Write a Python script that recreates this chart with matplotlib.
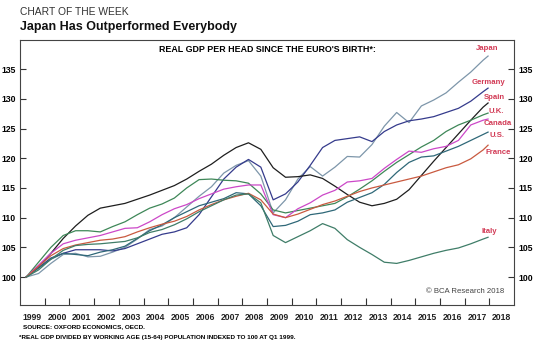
import numpy as np
import matplotlib
matplotlib.use("Agg")
import matplotlib.pyplot as plt
from matplotlib.ticker import FixedLocator, NullFormatter, FixedFormatter

plt.rcParams['font.family'] = ['Liberation Sans', 'DejaVu Sans']

# datas (meio de cada semestre) + último trimestre
anos = [1999.25, 1999.75, 2000.25, 2000.75, 2001.25, 2001.75, 2002.25, 2002.75,
        2003.25, 2003.75, 2004.25, 2004.75, 2005.25, 2005.75, 2006.25, 2006.75,
        2007.25, 2007.75, 2008.25, 2008.75, 2009.25, 2009.75, 2010.25, 2010.75,
        2011.25, 2011.75, 2012.25, 2012.75, 2013.25, 2013.75, 2014.25, 2014.75,
        2015.25, 2015.75, 2016.25, 2016.75, 2017.25, 2017.75, 2017.95]

japao = [100.0, 100.6, 102.3, 103.8, 104.0, 103.4, 103.5, 104.2, 105.0, 106.4,
         108.0, 108.6, 110.0, 111.8, 113.6, 115.2, 117.5, 118.8, 119.6, 117.0,
         110.8, 113.0, 116.5, 118.6, 117.0, 118.5, 120.3, 120.2, 122.3, 125.4,
         127.7, 126.0, 128.8, 129.8, 131.0, 132.8, 134.5, 136.5, 137.2]
alemanha = [100.0, 101.6, 103.2, 104.0, 104.6, 104.6, 104.6, 104.4, 104.8, 105.6,
            106.4, 107.2, 107.6, 108.3, 110.5, 113.5, 116.5, 118.5, 119.8, 118.5,
            113.0, 114.0, 116.0, 118.8, 121.8, 123.0, 123.3, 123.6, 122.8, 124.5,
            125.6, 126.3, 126.6, 127.0, 127.7, 128.4, 129.6, 131.2, 131.8]
espanha = [100.0, 101.8, 104.0, 106.5, 108.6, 110.4, 111.6, 112.0, 112.4, 113.1,
           113.8, 114.6, 115.4, 116.5, 117.8, 119.0, 120.5, 121.8, 122.6, 121.5,
           118.4, 116.8, 116.9, 117.2, 116.6, 115.3, 113.9, 112.6, 112.0, 112.4,
           113.1, 114.7, 117.1, 119.5, 121.8, 124.1, 126.4, 128.6, 129.3]
reino_unido = [100.0, 102.5, 105.0, 107.0, 107.8, 107.8, 107.6, 108.5, 109.3, 110.5,
               111.6, 112.3, 113.3, 115.0, 116.4, 116.5, 116.3, 116.2, 115.8, 114.0,
               111.3, 110.8, 111.2, 111.6, 112.0, 112.4, 113.5, 114.8, 116.2, 117.8,
               119.3, 120.6, 121.9, 123.0, 124.5, 125.6, 126.4, 127.3, 127.6]
canada = [100.0, 102.0, 104.0, 105.6, 106.2, 106.6, 107.0, 107.6, 108.2, 108.3,
          109.3, 110.5, 111.5, 112.2, 113.2, 114.0, 114.8, 115.2, 115.5, 115.5,
          110.5, 110.0, 111.5, 112.5, 113.8, 114.6, 116.0, 116.2, 116.6, 118.3,
          119.8, 121.2, 121.0, 121.6, 122.0, 123.0, 125.6, 126.4, 126.6]
eua = [100.0, 101.5, 103.0, 104.0, 103.8, 103.6, 104.2, 104.6, 105.2, 106.5,
       107.8, 108.8, 110.0, 111.0, 112.0, 112.6, 113.2, 114.2, 114.0, 112.0,
       108.5, 108.7, 109.4, 110.5, 110.8, 111.3, 112.6, 113.4, 114.2, 115.6,
       117.6, 119.3, 120.2, 120.4, 121.2, 122.0, 123.0, 124.0, 124.4]
franca = [100.0, 101.8, 103.6, 104.8, 105.4, 105.8, 106.2, 106.4, 106.8, 107.6,
          108.3, 108.9, 109.4, 110.2, 111.3, 112.2, 113.0, 113.6, 114.1, 113.0,
          110.6, 110.0, 110.6, 111.4, 112.2, 112.8, 113.6, 114.4, 115.0, 115.5,
          116.0, 116.5, 117.0, 117.7, 118.4, 118.9, 119.9, 121.4, 122.2]
italia = [100.0, 101.2, 103.0, 104.5, 105.3, 105.5, 105.6, 105.8, 106.0, 106.6,
          107.5, 108.0, 108.8, 109.8, 111.0, 112.0, 113.0, 113.8, 114.0, 112.5,
          107.0, 105.8, 106.8, 107.8, 109.0, 108.2, 106.3, 105.0, 103.8, 102.5,
          102.3, 102.8, 103.4, 104.0, 104.5, 104.9, 105.6, 106.4, 106.7]

paises = ["Japan", "Germany", "Spain", "U.K.", "Canada", "U.S.", "France", "Italy"]
series = [japao, alemanha, espanha, reino_unido, canada, eua, franca, italia]
cores = ["#7d96aa", "#353b8c", "#1e1e1e", "#3e8758", "#cc48c8", "#2f6878", "#c95a40", "#3f7d68"]
# posição dos rótulos (ano, valor)
rotulo_x = [2017.9, 2017.96, 2018.2, 2018.3, 2018.35, 2018.3, 2018.35, 2018.0]
rotulo_y = [138.5, 132.8, 130.3, 127.9, 125.8, 123.9, 121.0, 107.7]

anos_eixo = list(range(1999, 2019))
yticks = [100, 105, 110, 115, 120, 125, 130, 135]

##############################################################################################
fig = plt.figure(figsize=(5.39, 3.46), dpi=100)
ax = fig.add_axes([20/539, 1-305/346, 494/539, 265/346])

for s, c in zip(series, cores):
    ax.plot(anos, s, color=c, lw=0.9)

for nome, x, y in zip(paises, rotulo_x, rotulo_y):
    ax.text(x, y, nome, color="#d23a55", fontsize=5.6, fontweight="bold",
            ha="center", va="center")

ax.set_xlim(1999, 2019)
ax.set_ylim(95.3, 139.9)

# ticks nos anos, rótulos no meio do ano
ax.xaxis.set_major_locator(FixedLocator(anos_eixo[1:]))
ax.xaxis.set_major_formatter(NullFormatter())
ax.xaxis.set_minor_locator(FixedLocator([a + 0.5 for a in anos_eixo]))
ax.xaxis.set_minor_formatter(FixedFormatter([str(a) for a in anos_eixo]))
ax.tick_params(axis="x", which="major", direction="in", length=5, width=0.8, color="#333333")
ax.tick_params(axis="x", which="minor", length=0, pad=6, labelsize=6.2, labelcolor="#222222")
for lb in ax.get_xticklabels(minor=True):
    lb.set_fontweight("bold")

ax.set_yticks(yticks)
ax.tick_params(axis="y", which="both", direction="in", length=4, width=0.8, color="#333333",
               left=True, right=True, labelleft=True, labelright=True, labelsize=6.2, pad=3)
for t in ax.yaxis.get_major_ticks():
    t.label1.set_fontweight("bold")
    t.label2.set_fontweight("bold")

for sp in ax.spines.values():
    sp.set_color("#444444")
    sp.set_linewidth(0.8)

ax.text(0.5, 0.965, "REAL GDP PER HEAD SINCE THE EURO'S BIRTH*:", transform=ax.transAxes,
        ha="center", va="center", fontsize=6.4, fontweight="bold")
ax.text(0.98, 0.05, "\u00a9 BCA Research 2018", transform=ax.transAxes, ha="right", va="center",
        fontsize=5.6, color="#444444")

fig.text(20/539, 1-12/346, "CHART OF THE WEEK", fontsize=7.4, color="#333333", va="center")
fig.text(20/539, 1-27/346, "Japan Has Outperformed Everybody", fontsize=9, fontweight="bold",
         color="#111111", va="center")
fig.text(23/539, 1-327/346, "SOURCE: OXFORD ECONOMICS, OECD.", fontsize=4.6, fontweight="bold",
         va="center")
fig.text(19/539, 1-337/346, "*REAL GDP DIVIDED BY WORKING AGE (15-64) POPULATION INDEXED TO 100 AT Q1 1999.",
         fontsize=4.6, fontweight="bold", va="center")

fig.savefig("out.png", dpi=100)
